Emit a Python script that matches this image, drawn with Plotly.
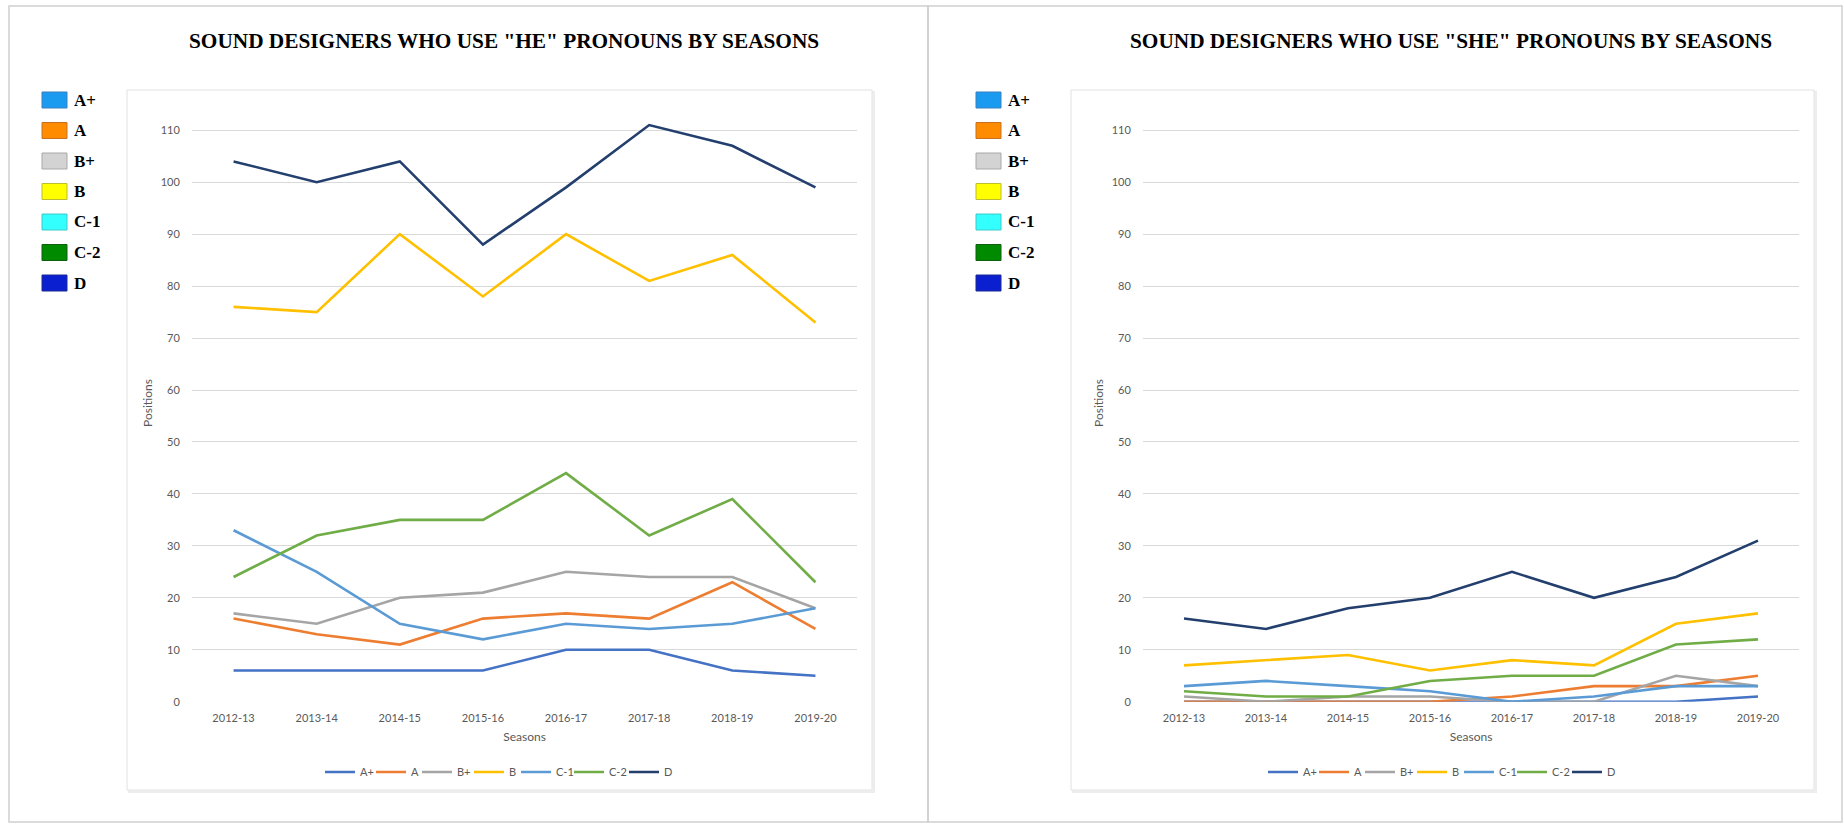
import plotly.graph_objects as go

W, H = 1844, 825

seasons = ["2012-13", "2013-14", "2014-15", "2015-16", "2016-17", "2017-18", "2018-19", "2019-20"]
categories = ["A+", "A", "B+", "B", "C-1", "C-2", "D"]

# "HE" pronouns
he_a_plus = [6, 6, 6, 6, 10, 10, 6, 5]
he_a = [16, 13, 11, 16, 17, 16, 23, 14]
he_b_plus = [17, 15, 20, 21, 25, 24, 24, 18]
he_b = [76, 75, 90, 78, 90, 81, 86, 73]
he_c1 = [33, 25, 15, 12, 15, 14, 15, 18]
he_c2 = [24, 32, 35, 35, 44, 32, 39, 23]
he_d = [104, 100, 104, 88, 99, 111, 107, 99]

# "SHE" pronouns
she_a_plus = [0, 0, 0, 0, 0, 0, 0, 1]
she_a = [0, 0, 0, 0, 1, 3, 3, 5]
she_b_plus = [1, 0, 1, 1, 0, 0, 5, 3]
she_b = [7, 8, 9, 6, 8, 7, 15, 17]
she_c1 = [3, 4, 3, 2, 0, 1, 3, 3]
she_c2 = [2, 1, 1, 4, 5, 5, 11, 12]
she_d = [16, 14, 18, 20, 25, 20, 24, 31]

line_colors = ["#4472C4", "#ED7D31", "#A5A5A5", "#FFC000", "#5B9BD5", "#70AD47", "#233F6E"]
key_colors = ["#1A9BF0", "#FF8C00", "#D3D3D3", "#FFFF00", "#33FFFF", "#008A00", "#0A1FD0"]
key_borders = ["#3A7FBF", "#C87020", "#A8A8A8", "#BDBD30", "#40C8C8", "#105F10", "#1A2A90"]
legend_entry_widths = [6, 1, 7, 2, 8, 10, 10]

he_series = [he_a_plus, he_a, he_b_plus, he_b, he_c1, he_c2, he_d]
she_series = [she_a_plus, she_a, she_b_plus, she_b, she_c1, she_c2, she_d]

titles = ['SOUND DESIGNERS WHO USE "HE" PRONOUNS BY SEASONS',
          'SOUND DESIGNERS WHO USE "SHE" PRONOUNS BY SEASONS']

def px(x):
    return x / W

def py(y):
    return 1 - y / H

fig = go.Figure()

for panel, series in enumerate([he_series, she_series]):
    xa = "x" if panel == 0 else "x2"
    ya = "y" if panel == 0 else "y2"
    leg = "legend" if panel == 0 else "legend2"
    for name, vals, col, lw in zip(categories, series, line_colors, legend_entry_widths):
        fig.add_trace(go.Scatter(
            x=seasons, y=vals, name=name, mode="lines",
            line=dict(color=col, width=2.6),
            xaxis=xa, yaxis=ya, legend=leg, cliponaxis=False,
            legendwidth=lw,
        ))

tick_font = dict(family="Lato", size=11, color="#595959")
title_font = dict(family="Lato", size=12, color="#595959")

y_bottom = py(701.7)
y_top = py(701.7 - 115 * 5.195)

def xaxis(dom, anchor):
    return dict(
        domain=dom, anchor=anchor, type="category", automargin=False,
        range=[-0.5, 7.5], showgrid=False, zeroline=False, showline=False,
        ticks="outside", ticklen=6, tickcolor="rgba(0,0,0,0)",
        tickfont=tick_font, fixedrange=True,
        title=dict(text="Seasons", font=title_font, standoff=9),
    )

def yaxis(anchor):
    return dict(
        domain=[y_bottom, y_top], anchor=anchor, automargin=False,
        range=[0, 115], dtick=10, tick0=0,
        showgrid=True, gridcolor="#D9D9D9", gridwidth=1,
        zeroline=False, showline=False,
        ticks="outside", ticklen=9, tickcolor="rgba(0,0,0,0)",
        tickfont=tick_font, fixedrange=True,
        title=dict(text="Positions", font=title_font, standoff=5),
    )

shapes = []
annotations = []

# outer panels
shapes.append(dict(type="rect", xref="paper", yref="paper",
                   x0=px(9), x1=px(928), y0=py(822), y1=py(6),
                   line=dict(color="#D0D0D0", width=1.5), fillcolor="rgba(0,0,0,0)", layer="below"))
shapes.append(dict(type="rect", xref="paper", yref="paper",
                   x0=px(928), x1=px(1842), y0=py(822), y1=py(6),
                   line=dict(color="#D0D0D0", width=1.5), fillcolor="rgba(0,0,0,0)", layer="below"))

# chart boxes
for (bx0, bx1) in [(127, 872), (1071, 1814)]:
    shapes.append(dict(type="rect", xref="paper", yref="paper",
                       x0=px(bx0 + 2), x1=px(bx1 + 2), y0=py(792), y1=py(92),
                       line=dict(color="#EDEDED", width=2), fillcolor="#F6F6F6", layer="below"))
    shapes.append(dict(type="rect", xref="paper", yref="paper",
                       x0=px(bx0), x1=px(bx1), y0=py(790), y1=py(90),
                       line=dict(color="#E2E2E2", width=1), fillcolor="#FFFFFF", layer="below"))

# custom colour keys at the left of each panel
for ox in [0, 934]:
    for i, (cat, c, bc) in enumerate(zip(categories, key_colors, key_borders)):
        cy = 100 + 30.5 * i
        shapes.append(dict(type="rect", xref="paper", yref="paper",
                           x0=px(42 + ox), x1=px(67 + ox), y0=py(cy + 8), y1=py(cy - 8),
                           line=dict(color=bc, width=1), fillcolor=c))
        annotations.append(dict(xref="paper", yref="paper", x=px(72 + ox), y=py(cy),
                                xanchor="left", yanchor="middle", showarrow=False,
                                text=cat,
                                font=dict(family="Liberation Serif", size=17, color="#000000", weight="bold")))

# titles
for tx, t in zip([504, 1451], titles):
    annotations.append(dict(xref="paper", yref="paper", x=px(tx), y=py(41),
                            xanchor="center", yanchor="middle", showarrow=False, text=t,
                            font=dict(family="Liberation Serif", size=21.3, color="#000000", weight="bold")))

legend_common = dict(orientation="h", xanchor="center", yanchor="middle",
                     y=py(772), font=dict(family="Lato", size=11, color="#595959"),
                     bgcolor="rgba(0,0,0,0)", itemwidth=30, itemclick=False, itemdoubleclick=False)

fig.update_layout(
    width=W, height=H,
    margin=dict(l=0, r=0, t=0, b=0, autoexpand=False),
    paper_bgcolor="#FFFFFF", plot_bgcolor="rgba(0,0,0,0)",
    showlegend=True,
    xaxis=xaxis([px(192), px(857)], "y"),
    yaxis=yaxis("x"),
    xaxis2=xaxis([px(1143), px(1799)], "y2"),
    yaxis2=yaxis("x2"),
    legend=dict(x=px(499.5), **legend_common),
    legend2=dict(x=px(1442.5), **legend_common),
    shapes=shapes,
    annotations=annotations,
)

fig.write_html("out.html",
               config={"displayModeBar": False},
               post_script="document.body.style.margin='0px';document.body.style.overflow='hidden';")
